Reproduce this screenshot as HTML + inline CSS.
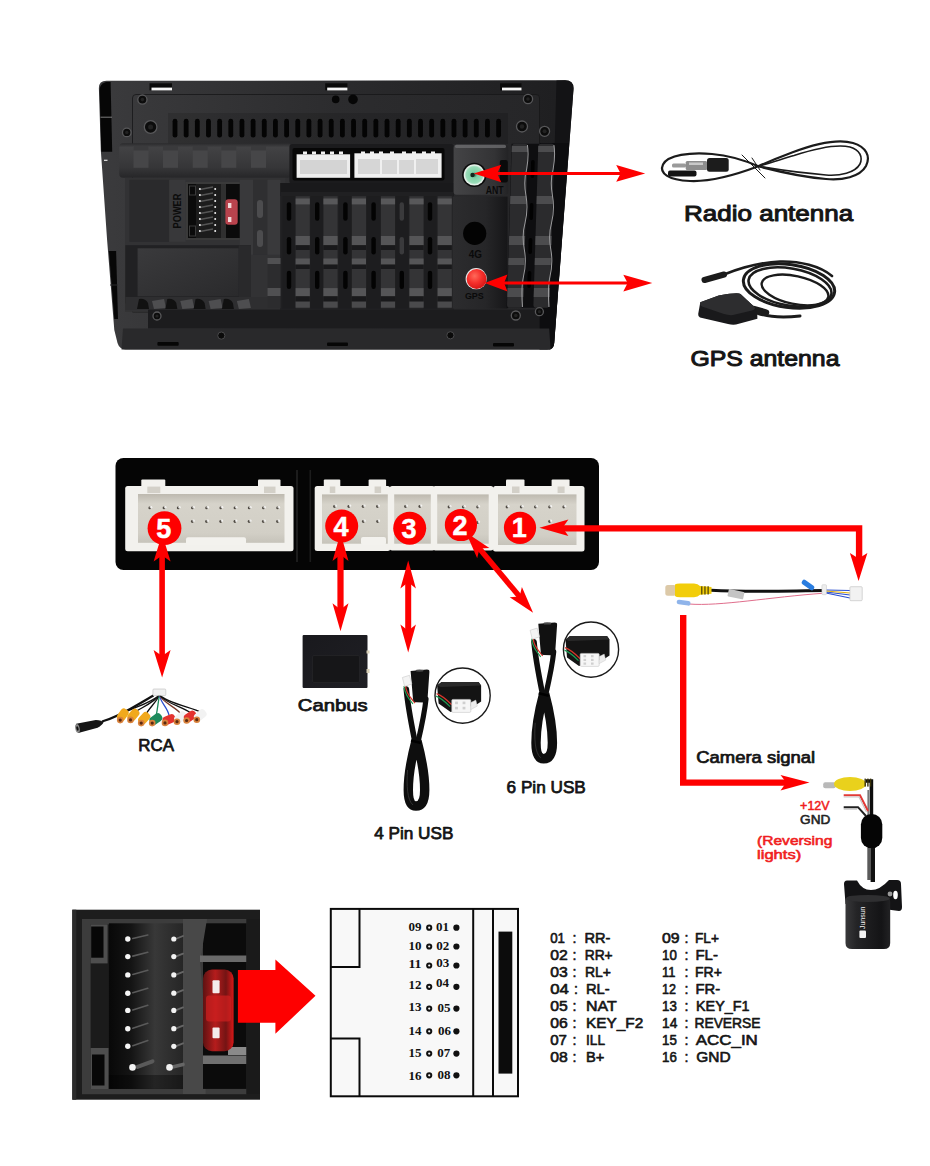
<!DOCTYPE html>
<html lang="en"><head><meta charset="utf-8"><title>Wiring diagram</title>
<style>
html,body{margin:0;padding:0;background:#fff;}
body{width:930px;height:1166px;overflow:hidden;font-family:"Liberation Sans",sans-serif;}
svg{display:block;}
</style></head><body>
<svg width="930" height="1166" viewBox="0 0 930 1166">
<rect width="930" height="1166" fill="#ffffff"/>
<defs>
<linearGradient id="gBody" x1="0" x2="1" y1="0" y2="0"><stop offset="0" stop-color="#3b3b3d"/><stop offset="0.45" stop-color="#2c2c2e"/><stop offset="1" stop-color="#1e1e20"/></linearGradient>
<linearGradient id="gPlate" x1="0" x2="1" y1="0" y2="0"><stop offset="0" stop-color="#39393b"/><stop offset="0.5" stop-color="#2c2c2e"/><stop offset="1" stop-color="#262628"/></linearGradient>
<linearGradient id="gRidge" x1="0" x2="0" y1="0" y2="1"><stop offset="0" stop-color="#2a2a2c"/><stop offset="0.12" stop-color="#424244"/><stop offset="0.7" stop-color="#363638"/><stop offset="1" stop-color="#262628"/></linearGradient>
<linearGradient id="gRib" x1="0" x2="0" y1="0" y2="1"><stop offset="0" stop-color="#4c4c4e"/><stop offset="1" stop-color="#3c3c3e"/></linearGradient>
<linearGradient id="gAnt" x1="0" x2="1" y1="0" y2="0"><stop offset="0" stop-color="#444446"/><stop offset="0.75" stop-color="#333335"/><stop offset="1" stop-color="#232325"/></linearGradient>
<linearGradient id="gLow" x1="0" x2="1" y1="0" y2="0"><stop offset="0" stop-color="#2c2c2e"/><stop offset="0.6" stop-color="#262628"/><stop offset="1" stop-color="#161618"/></linearGradient>
<linearGradient id="gPanel" x1="0" x2="1" y1="0" y2="1"><stop offset="0" stop-color="#3a3a3c"/><stop offset="1" stop-color="#2a2a2c"/></linearGradient>
<radialGradient id="gGps" cx="0.4" cy="0.35" r="0.7"><stop offset="0" stop-color="#ff6a5a"/><stop offset="0.5" stop-color="#f5302c"/><stop offset="1" stop-color="#d21414"/></radialGradient>
<radialGradient id="gAntC" cx="0.5" cy="0.5" r="0.5"><stop offset="0" stop-color="#2b5a43"/><stop offset="0.3" stop-color="#7ccfa4"/><stop offset="0.85" stop-color="#9adcb8"/><stop offset="1" stop-color="#d8efe2"/></radialGradient>
</defs>
<g id="unit">
<path d="M106.5,80.8 L565,80.3 Q573.9,80.3 573.5,89 L554.2,343 Q553.6,349.4 547,349.4 L125.5,349.4 Q119.5,349.4 117.5,343 L114.3,330 L107.1,240 L100.8,150 L98.9,89 Q98.4,80.8 106.5,80.8 Z" fill="url(#gBody)"/>
<path d="M99.6,90 Q99.6,84 106,82 L110.6,82 L112.2,151.7 L101.3,151.7 Z" fill="#060606"/>
<line x1="100.5" y1="117.2" x2="112.0" y2="117.2" stroke="#8a8a8a" stroke-width="0.9" stroke-linecap="butt"/>
<line x1="104.0" y1="160.3" x2="107.5" y2="160.3" stroke="#e8e8e8" stroke-width="1.2" stroke-linecap="butt"/>
<path d="M108.9,251 L116.1,251 L118,319 L114.3,319 Z" fill="#070707"/>
<line x1="110.0" y1="285.0" x2="118.0" y2="285.0" stroke="#2a2a2c" stroke-width="1.0" stroke-linecap="butt"/>
<path d="M556.5,80.5 L565,80.3 Q573.9,80.3 573.5,89 L554.2,343 Q553.6,349.4 549,349.4 Z" fill="#131315"/>
<path d="M539.5,143 L569,143 L554.2,343 Q553.6,349.4 549,349.4 L539.5,349.4 Z" fill="#0d0d0f"/>
<path d="M136,94.5 L536,94.5 Q539.5,94.5 539.5,98 L539.5,312 L132.5,312 L132.5,98 Q132.5,94.5 136,94.5 Z" fill="url(#gPlate)" stroke="#161618" stroke-width="0.8"/>
<rect x="168" y="113" width="340" height="31" fill="#000" opacity="0.13"/>
<rect x="149.5" y="83.3" width="22.5" height="7" fill="#0a0a0a"/>
<rect x="151.5" y="87.6" width="20.5" height="2.8" fill="#f6f6f6"/>
<rect x="325.2" y="83.3" width="22.2" height="7" fill="#0a0a0a"/>
<rect x="327.2" y="87.6" width="20.2" height="2.8" fill="#f6f6f6"/>
<rect x="500.0" y="83.3" width="21.5" height="7" fill="#0a0a0a"/>
<rect x="502.0" y="87.6" width="19.5" height="2.8" fill="#f6f6f6"/>
<circle cx="335.7" cy="99.4" r="3.8" fill="#060606"/><circle cx="353" cy="99.4" r="4.8" fill="#060606"/>
<rect x="172.60" y="118.8" width="4.8" height="18.8" rx="2.4" fill="#040404"/>
<rect x="183.76" y="118.8" width="4.8" height="18.8" rx="2.4" fill="#040404"/>
<rect x="194.92" y="118.8" width="4.8" height="18.8" rx="2.4" fill="#040404"/>
<rect x="206.08" y="118.8" width="4.8" height="18.8" rx="2.4" fill="#040404"/>
<rect x="217.24" y="118.8" width="4.8" height="18.8" rx="2.4" fill="#040404"/>
<rect x="228.39" y="118.8" width="4.8" height="18.8" rx="2.4" fill="#040404"/>
<rect x="239.55" y="118.8" width="4.8" height="18.8" rx="2.4" fill="#040404"/>
<rect x="250.71" y="118.8" width="4.8" height="18.8" rx="2.4" fill="#040404"/>
<rect x="261.87" y="118.8" width="4.8" height="18.8" rx="2.4" fill="#040404"/>
<rect x="273.03" y="118.8" width="4.8" height="18.8" rx="2.4" fill="#040404"/>
<rect x="284.19" y="118.8" width="4.8" height="18.8" rx="2.4" fill="#040404"/>
<rect x="295.35" y="118.8" width="4.8" height="18.8" rx="2.4" fill="#040404"/>
<rect x="306.51" y="118.8" width="4.8" height="18.8" rx="2.4" fill="#040404"/>
<rect x="317.67" y="118.8" width="4.8" height="18.8" rx="2.4" fill="#040404"/>
<rect x="328.83" y="118.8" width="4.8" height="18.8" rx="2.4" fill="#040404"/>
<rect x="339.99" y="118.8" width="4.8" height="18.8" rx="2.4" fill="#040404"/>
<rect x="351.14" y="118.8" width="4.8" height="18.8" rx="2.4" fill="#040404"/>
<rect x="362.30" y="118.8" width="4.8" height="18.8" rx="2.4" fill="#040404"/>
<rect x="373.46" y="118.8" width="4.8" height="18.8" rx="2.4" fill="#040404"/>
<rect x="384.62" y="118.8" width="4.8" height="18.8" rx="2.4" fill="#040404"/>
<rect x="395.78" y="118.8" width="4.8" height="18.8" rx="2.4" fill="#040404"/>
<rect x="406.94" y="118.8" width="4.8" height="18.8" rx="2.4" fill="#040404"/>
<rect x="418.10" y="118.8" width="4.8" height="18.8" rx="2.4" fill="#040404"/>
<rect x="429.26" y="118.8" width="4.8" height="18.8" rx="2.4" fill="#040404"/>
<rect x="440.42" y="118.8" width="4.8" height="18.8" rx="2.4" fill="#040404"/>
<rect x="451.58" y="118.8" width="4.8" height="18.8" rx="2.4" fill="#040404"/>
<rect x="462.73" y="118.8" width="4.8" height="18.8" rx="2.4" fill="#040404"/>
<rect x="473.89" y="118.8" width="4.8" height="18.8" rx="2.4" fill="#040404"/>
<rect x="485.05" y="118.8" width="4.8" height="18.8" rx="2.4" fill="#040404"/>
<rect x="496.21" y="118.8" width="4.8" height="18.8" rx="2.4" fill="#040404"/>
<rect x="119.2" y="143.2" width="172.6" height="34.6" rx="4" fill="url(#gRidge)"/>
<rect x="133.5" y="146" width="15" height="21.8" fill="#464648"/>
<rect x="133.5" y="146" width="15" height="4.5" fill="#3a3a3c"/>
<rect x="163.0" y="146" width="15" height="21.8" fill="#464648"/>
<rect x="163.0" y="146" width="15" height="4.5" fill="#3a3a3c"/>
<rect x="192.7" y="146" width="15" height="21.8" fill="#464648"/>
<rect x="192.7" y="146" width="15" height="4.5" fill="#3a3a3c"/>
<rect x="221.3" y="146" width="15" height="21.8" fill="#464648"/>
<rect x="221.3" y="146" width="15" height="4.5" fill="#3a3a3c"/>
<rect x="251.0" y="146" width="15" height="21.8" fill="#464648"/>
<rect x="251.0" y="146" width="15" height="4.5" fill="#3a3a3c"/>
<rect x="125" y="177.8" width="160" height="134" fill="#323234"/>
<rect x="129.4" y="179.8" width="40" height="62" fill="#2a2a2c"/>
<rect x="169.2" y="179.8" width="16.4" height="62" fill="#38383a"/>
<rect x="239.7" y="179.8" width="13.3" height="75" fill="#39393b"/>
<rect x="253" y="179.8" width="14.5" height="75" fill="#2f2f31"/>
<rect x="267.5" y="179.8" width="13" height="75" fill="#39393b"/>
<rect x="257" y="200" width="6" height="18" rx="3" fill="#4c4c4e"/>
<rect x="257" y="230" width="6" height="17" rx="3" fill="#4c4c4e"/>
<rect x="185.6" y="181.9" width="54.1" height="58.1" fill="#3a3a3a"/>
<rect x="188" y="184" width="51.7" height="54" fill="#0b0b0b"/>
<rect x="189.5" y="186" width="6" height="9" fill="none" stroke="#3a3a3a" stroke-width="1"/>
<rect x="189.5" y="226" width="6" height="10" fill="none" stroke="#3a3a3a" stroke-width="1"/>
<rect x="196" y="184" width="25" height="54" fill="#1c1c1c"/>
<rect x="221" y="184" width="5" height="54" fill="#303030"/>
<line x1="200" y1="189.5" x2="213" y2="187.0" stroke="#555" stroke-width="1.6"/>
<circle cx="199.9" cy="189.0" r="1" fill="#f0f0f0"/><circle cx="215.2" cy="189.0" r="1" fill="#f0f0f0"/>
<line x1="200" y1="195.5" x2="213" y2="193.0" stroke="#555" stroke-width="1.6"/>
<circle cx="199.9" cy="195.0" r="1" fill="#f0f0f0"/><circle cx="215.2" cy="195.0" r="1" fill="#f0f0f0"/>
<line x1="200" y1="201.5" x2="213" y2="199.0" stroke="#555" stroke-width="1.6"/>
<circle cx="199.9" cy="201.0" r="1" fill="#f0f0f0"/><circle cx="215.2" cy="201.0" r="1" fill="#f0f0f0"/>
<line x1="200" y1="207.5" x2="213" y2="205.0" stroke="#555" stroke-width="1.6"/>
<circle cx="199.9" cy="207.0" r="1" fill="#f0f0f0"/><circle cx="215.2" cy="207.0" r="1" fill="#f0f0f0"/>
<line x1="200" y1="213.5" x2="213" y2="211.0" stroke="#555" stroke-width="1.6"/>
<circle cx="199.9" cy="213.0" r="1" fill="#f0f0f0"/><circle cx="215.2" cy="213.0" r="1" fill="#f0f0f0"/>
<line x1="200" y1="219.5" x2="213" y2="217.0" stroke="#555" stroke-width="1.6"/>
<circle cx="199.9" cy="219.0" r="1" fill="#f0f0f0"/><circle cx="215.2" cy="219.0" r="1" fill="#f0f0f0"/>
<line x1="200" y1="225.5" x2="213" y2="223.0" stroke="#555" stroke-width="1.6"/>
<circle cx="199.9" cy="225.0" r="1" fill="#f0f0f0"/><circle cx="215.2" cy="225.0" r="1" fill="#f0f0f0"/>
<line x1="200" y1="231.5" x2="213" y2="229.0" stroke="#555" stroke-width="1.6"/>
<circle cx="199.9" cy="231.0" r="1" fill="#f0f0f0"/><circle cx="215.2" cy="231.0" r="1" fill="#f0f0f0"/>
<rect x="225.4" y="199.2" width="12.3" height="25.6" rx="3" fill="#b9434d"/>
<rect x="228" y="203" width="3.4" height="5" fill="#f3dada"/><rect x="228" y="217" width="3.4" height="5" fill="#f3dada"/>
<text x="0.0" y="0.0" font-family="&quot;Liberation Sans&quot;, sans-serif" font-size="10.6" font-weight="bold" fill="#0c0c0c" text-anchor="start" textLength="34.8" lengthAdjust="spacingAndGlyphs" transform="translate(180.6,228.4) rotate(-90)">POWER</text>
<rect x="125.3" y="245.2" width="125.7" height="58.2" fill="#212123"/>
<rect x="137.6" y="248.3" width="101.1" height="48" fill="url(#gPanel)"/>
<rect x="238.7" y="245.2" width="12.3" height="54" fill="#29292b"/>
<rect x="125.3" y="297" width="158" height="13" fill="#2e2e30"/>
<path d="M139.0,299 q6,-1 9,4 l1,6 l-12,0 z" fill="#111"/>
<path d="M152.0,301 l12,-2 l2,9 l-12,1 z" fill="#4e4e50"/>
<path d="M167.3,299 q6,-1 9,4 l1,6 l-12,0 z" fill="#111"/>
<path d="M180.3,301 l12,-2 l2,9 l-12,1 z" fill="#4e4e50"/>
<path d="M195.6,299 q6,-1 9,4 l1,6 l-12,0 z" fill="#111"/>
<path d="M208.6,301 l12,-2 l2,9 l-12,1 z" fill="#4e4e50"/>
<path d="M223.9,299 q6,-1 9,4 l1,6 l-12,0 z" fill="#111"/>
<path d="M236.9,301 l12,-2 l2,9 l-12,1 z" fill="#4e4e50"/>
<rect x="148" y="309.6" width="391" height="19" fill="#1c1c1e"/>
<path d="M123.0,328.5 L549.2,328.5 L550.6,349.4 L121.5,349.4 Z" fill="#29292b"/>
<circle cx="221.3" cy="335.6" r="3.6" fill="#0a0a0a" stroke="#4a4a4c" stroke-width="1"/>
<circle cx="450.4" cy="335.3" r="3.6" fill="#0a0a0a" stroke="#4a4a4c" stroke-width="1"/>
<rect x="157.4" y="342" width="21.3" height="3.8" rx="1" fill="#060606"/>
<rect x="327" y="342.5" width="21" height="3.5" rx="1" fill="#060606"/>
<rect x="493" y="343" width="21" height="3.5" rx="1" fill="#060606"/>
<rect x="289.4" y="144" width="164.5" height="40" rx="3" fill="#1b1b1d"/>
<rect x="292.5" y="148" width="152" height="32.5" rx="2" fill="#070707"/>
<rect x="296.6" y="154.3" width="53.5" height="23.5" fill="#eeeeee"/>
<rect x="354.4" y="153.3" width="87.2" height="24.5" fill="#f0f0f0"/>
<rect x="300" y="160" width="47" height="14" fill="#d4d4d4"/>
<rect x="358" y="159" width="22" height="15" fill="#d6d6d6"/><rect x="382" y="160" width="15" height="14" fill="#d6d6d6"/><rect x="399" y="160" width="15" height="14" fill="#d6d6d6"/><rect x="416" y="159" width="22" height="15" fill="#d6d6d6"/>
<rect x="303.0" y="151.5" width="4" height="2.8" fill="#f0f0f0"/>
<rect x="312.0" y="151.5" width="4" height="2.8" fill="#f0f0f0"/>
<rect x="321.0" y="151.5" width="4" height="2.8" fill="#f0f0f0"/>
<rect x="330.0" y="151.5" width="4" height="2.8" fill="#f0f0f0"/>
<rect x="339.0" y="151.5" width="4" height="2.8" fill="#f0f0f0"/>
<rect x="361.0" y="151.5" width="4" height="2.8" fill="#f0f0f0"/>
<rect x="370.0" y="151.5" width="4" height="2.8" fill="#f0f0f0"/>
<rect x="379.0" y="151.5" width="4" height="2.8" fill="#f0f0f0"/>
<rect x="390.0" y="151.5" width="4" height="2.8" fill="#f0f0f0"/>
<rect x="402.0" y="151.5" width="4" height="2.8" fill="#f0f0f0"/>
<rect x="412.0" y="151.5" width="4" height="2.8" fill="#f0f0f0"/>
<rect x="422.0" y="151.5" width="4" height="2.8" fill="#f0f0f0"/>
<rect x="431.0" y="151.5" width="4" height="2.8" fill="#f0f0f0"/>
<rect x="280.2" y="183" width="173.7" height="13" fill="#19191b"/>
<rect x="280.2" y="192" width="173.7" height="118" fill="#202022"/>
<rect x="282.5" y="196.2" width="13" height="112" fill="#1d1d1f"/>
<rect x="286.8" y="202.3" width="4.4" height="18.4" rx="2.2" fill="#030303"/>
<rect x="286.8" y="237.0" width="4.4" height="17.4" rx="2.2" fill="#030303"/>
<rect x="286.8" y="270.7" width="4.4" height="18.3" rx="2.2" fill="#030303"/>
<rect x="310.7" y="196.2" width="13" height="112" fill="#1d1d1f"/>
<rect x="315.0" y="202.3" width="4.4" height="18.4" rx="2.2" fill="#030303"/>
<rect x="315.0" y="237.0" width="4.4" height="17.4" rx="2.2" fill="#030303"/>
<rect x="315.0" y="270.7" width="4.4" height="18.3" rx="2.2" fill="#030303"/>
<rect x="338.9" y="196.2" width="13" height="112" fill="#1d1d1f"/>
<rect x="343.2" y="202.3" width="4.4" height="18.4" rx="2.2" fill="#030303"/>
<rect x="343.2" y="237.0" width="4.4" height="17.4" rx="2.2" fill="#030303"/>
<rect x="343.2" y="270.7" width="4.4" height="18.3" rx="2.2" fill="#030303"/>
<rect x="367.1" y="196.2" width="13" height="112" fill="#1d1d1f"/>
<rect x="371.4" y="202.3" width="4.4" height="18.4" rx="2.2" fill="#030303"/>
<rect x="371.4" y="237.0" width="4.4" height="17.4" rx="2.2" fill="#030303"/>
<rect x="371.4" y="270.7" width="4.4" height="18.3" rx="2.2" fill="#030303"/>
<rect x="395.3" y="196.2" width="13" height="112" fill="#1d1d1f"/>
<rect x="399.6" y="202.3" width="4.4" height="18.4" rx="2.2" fill="#3a3a3c"/>
<rect x="399.6" y="237.0" width="4.4" height="17.4" rx="2.2" fill="#3a3a3c"/>
<rect x="399.6" y="270.7" width="4.4" height="18.3" rx="2.2" fill="#030303"/>
<rect x="423.5" y="196.2" width="13" height="112" fill="#1d1d1f"/>
<rect x="427.8" y="202.3" width="4.4" height="18.4" rx="2.2" fill="#030303"/>
<rect x="427.8" y="237.0" width="4.4" height="17.4" rx="2.2" fill="#030303"/>
<rect x="427.8" y="270.7" width="4.4" height="18.3" rx="2.2" fill="#030303"/>
<rect x="295.6" y="196.2" width="14.2" height="112" fill="#343436"/>
<rect x="295.6" y="198.5" width="14.2" height="5.9" fill="#58585a"/>
<rect x="295.6" y="236.0" width="14.2" height="9.2" fill="#555557"/>
<rect x="295.6" y="258.5" width="14.2" height="6.1" fill="#555557"/>
<rect x="295.6" y="288.1" width="14.2" height="8.2" fill="#555557"/>
<rect x="295.6" y="301.4" width="14.2" height="6.1" fill="#4a4a4c"/>
<rect x="295.6" y="245.2" width="14.2" height="4.8" fill="#19191b"/>
<rect x="295.6" y="264.6" width="14.2" height="4.4" fill="#19191b"/>
<rect x="295.6" y="296.3" width="14.2" height="5.1" fill="#19191b"/>
<rect x="323.4" y="196.2" width="14.2" height="112" fill="#343436"/>
<rect x="323.4" y="198.5" width="14.2" height="5.9" fill="#58585a"/>
<rect x="323.4" y="236.0" width="14.2" height="9.2" fill="#555557"/>
<rect x="323.4" y="258.5" width="14.2" height="6.1" fill="#555557"/>
<rect x="323.4" y="288.1" width="14.2" height="8.2" fill="#555557"/>
<rect x="323.4" y="301.4" width="14.2" height="6.1" fill="#4a4a4c"/>
<rect x="323.4" y="245.2" width="14.2" height="4.8" fill="#19191b"/>
<rect x="323.4" y="264.6" width="14.2" height="4.4" fill="#19191b"/>
<rect x="323.4" y="296.3" width="14.2" height="5.1" fill="#19191b"/>
<rect x="351.8" y="196.2" width="14.2" height="112" fill="#343436"/>
<rect x="351.8" y="198.5" width="14.2" height="5.9" fill="#58585a"/>
<rect x="351.8" y="236.0" width="14.2" height="9.2" fill="#555557"/>
<rect x="351.8" y="258.5" width="14.2" height="6.1" fill="#555557"/>
<rect x="351.8" y="288.1" width="14.2" height="8.2" fill="#555557"/>
<rect x="351.8" y="301.4" width="14.2" height="6.1" fill="#4a4a4c"/>
<rect x="351.8" y="245.2" width="14.2" height="4.8" fill="#19191b"/>
<rect x="351.8" y="264.6" width="14.2" height="4.4" fill="#19191b"/>
<rect x="351.8" y="296.3" width="14.2" height="5.1" fill="#19191b"/>
<rect x="380.9" y="196.2" width="14.2" height="112" fill="#343436"/>
<rect x="380.9" y="198.5" width="14.2" height="5.9" fill="#58585a"/>
<rect x="380.9" y="236.0" width="14.2" height="9.2" fill="#555557"/>
<rect x="380.9" y="258.5" width="14.2" height="6.1" fill="#555557"/>
<rect x="380.9" y="288.1" width="14.2" height="8.2" fill="#555557"/>
<rect x="380.9" y="301.4" width="14.2" height="6.1" fill="#4a4a4c"/>
<rect x="380.9" y="245.2" width="14.2" height="4.8" fill="#19191b"/>
<rect x="380.9" y="264.6" width="14.2" height="4.4" fill="#19191b"/>
<rect x="380.9" y="296.3" width="14.2" height="5.1" fill="#19191b"/>
<rect x="409.4" y="196.2" width="14.2" height="112" fill="#343436"/>
<rect x="409.4" y="198.5" width="14.2" height="5.9" fill="#58585a"/>
<rect x="409.4" y="236.0" width="14.2" height="9.2" fill="#555557"/>
<rect x="409.4" y="258.5" width="14.2" height="6.1" fill="#555557"/>
<rect x="409.4" y="288.1" width="14.2" height="8.2" fill="#555557"/>
<rect x="409.4" y="301.4" width="14.2" height="6.1" fill="#4a4a4c"/>
<rect x="409.4" y="245.2" width="14.2" height="4.8" fill="#19191b"/>
<rect x="409.4" y="264.6" width="14.2" height="4.4" fill="#19191b"/>
<rect x="409.4" y="296.3" width="14.2" height="5.1" fill="#19191b"/>
<rect x="437.6" y="196.2" width="14.2" height="112" fill="#343436"/>
<rect x="437.6" y="198.5" width="14.2" height="5.9" fill="#58585a"/>
<rect x="437.6" y="236.0" width="14.2" height="9.2" fill="#555557"/>
<rect x="437.6" y="258.5" width="14.2" height="6.1" fill="#555557"/>
<rect x="437.6" y="288.1" width="14.2" height="8.2" fill="#555557"/>
<rect x="437.6" y="301.4" width="14.2" height="6.1" fill="#4a4a4c"/>
<rect x="437.6" y="245.2" width="14.2" height="4.8" fill="#19191b"/>
<rect x="437.6" y="264.6" width="14.2" height="4.4" fill="#19191b"/>
<rect x="437.6" y="296.3" width="14.2" height="5.1" fill="#19191b"/>
<rect x="267.5" y="258" width="13" height="50" fill="#2c2c2e"/>
<rect x="267.5" y="258" width="13" height="6" fill="#505052"/><rect x="267.5" y="288" width="13" height="8" fill="#505052"/>
<rect x="452.6" y="196.6" width="55" height="112" fill="url(#gLow)"/>
<rect x="453.6" y="144.7" width="54.7" height="50" rx="3" fill="url(#gAnt)"/>
<rect x="455" y="144.7" width="51" height="3.4" rx="1.5" fill="#6c6c6e" opacity="0.8"/>
<rect x="499.8" y="160" width="8" height="22.5" rx="2" fill="#0a0a0a"/>
<circle cx="474.3" cy="174.9" r="12.2" fill="#0b0b0b"/><circle cx="474.3" cy="174.9" r="10.6" fill="#e6efe9"/><circle cx="474.3" cy="174.9" r="9.6" fill="url(#gAntC)"/><circle cx="472.5" cy="175" r="2.2" fill="#12281d"/>
<text x="485.7" y="194.3" font-family="&quot;Liberation Sans&quot;, sans-serif" font-size="10.0" font-weight="bold" fill="#0a0a0a" text-anchor="start" textLength="17.9" lengthAdjust="spacingAndGlyphs" >ANT</text>
<circle cx="474.7" cy="233.4" r="11.6" fill="#030303"/>
<text x="468.7" y="257.9" font-family="&quot;Liberation Sans&quot;, sans-serif" font-size="10.0" font-weight="bold" fill="#0a0a0a" text-anchor="start" textLength="13.2" lengthAdjust="spacingAndGlyphs" >4G</text>
<circle cx="476.2" cy="278.7" r="10.6" fill="#e9e9e9"/><circle cx="476.6" cy="279" r="10" fill="url(#gGps)"/>
<text x="464.9" y="298.7" font-family="&quot;Liberation Sans&quot;, sans-serif" font-size="9.6" font-weight="bold" fill="#0a0a0a" text-anchor="start" textLength="18.9" lengthAdjust="spacingAndGlyphs" >GPS</text>
<g transform="translate(8,0) skewX(-1.74)">
<rect x="508" y="143.8" width="43" height="164" fill="#0e0e10"/>
<rect x="508.3" y="143.8" width="16.0" height="164" rx="3" fill="#2b2b2d"/><rect x="508.3" y="146.0" width="16.0" height="6.0" fill="#4c4c4e"/><rect x="508.3" y="196.0" width="16.0" height="8.0" fill="#4c4c4e"/><rect x="508.3" y="236.0" width="16.0" height="9.0" fill="#4c4c4e"/><rect x="508.3" y="258.0" width="16.0" height="7.0" fill="#4c4c4e"/><rect x="508.3" y="288.0" width="16.0" height="9.0" fill="#4c4c4e"/><path d="M523.8,145 q2,10 0,24 q-3,12 0,26 q3,14 0,28 q-3,12 0,26 q3,14 0,28 q-2,10 0,30" fill="none" stroke="#9c9c9e" stroke-width="1"/>
<rect x="534.7" y="143.8" width="16.1" height="164" rx="3" fill="#2b2b2d"/><rect x="534.7" y="146.0" width="16.1" height="6.0" fill="#4c4c4e"/><rect x="534.7" y="196.0" width="16.1" height="8.0" fill="#4c4c4e"/><rect x="534.7" y="236.0" width="16.1" height="9.0" fill="#4c4c4e"/><rect x="534.7" y="258.0" width="16.1" height="7.0" fill="#4c4c4e"/><rect x="534.7" y="288.0" width="16.1" height="9.0" fill="#4c4c4e"/><path d="M550.3,145 q2,10 0,24 q-3,12 0,26 q3,14 0,28 q-3,12 0,26 q3,14 0,28 q-2,10 0,30" fill="none" stroke="#9c9c9e" stroke-width="1"/>
<rect x="528" y="160.0" width="3.6" height="18.0" rx="1.8" fill="#020202"/>
<rect x="528" y="203.0" width="3.6" height="17.0" rx="1.8" fill="#020202"/>
<rect x="528" y="238.0" width="3.6" height="16.0" rx="1.8" fill="#020202"/>
<rect x="528" y="271.0" width="3.6" height="17.0" rx="1.8" fill="#020202"/>
</g>
<circle cx="142.4" cy="99.6" r="4.6" fill="#0c0c0c" stroke="#58585a" stroke-width="1.3"/><circle cx="142.4" cy="99.6" r="1.8" fill="#222"/>
<circle cx="150.6" cy="127.0" r="6.3" fill="#0c0c0c" stroke="#58585a" stroke-width="1.3"/><circle cx="150.6" cy="127.0" r="2.5" fill="#222"/>
<circle cx="126.8" cy="132.4" r="4.3" fill="#0c0c0c" stroke="#58585a" stroke-width="1.3"/><circle cx="126.8" cy="132.4" r="1.7" fill="#222"/>
<circle cx="528.0" cy="99.0" r="4.6" fill="#0c0c0c" stroke="#58585a" stroke-width="1.3"/><circle cx="528.0" cy="99.0" r="1.8" fill="#222"/>
<circle cx="522.0" cy="126.5" r="5.5" fill="#0c0c0c" stroke="#58585a" stroke-width="1.3"/><circle cx="522.0" cy="126.5" r="2.2" fill="#222"/>
<circle cx="544.6" cy="131.3" r="5.0" fill="#0c0c0c" stroke="#58585a" stroke-width="1.3"/><circle cx="544.6" cy="131.3" r="2.0" fill="#222"/>
<circle cx="157.0" cy="316.0" r="4.0" fill="#0c0c0c" stroke="#58585a" stroke-width="1.3"/><circle cx="157.0" cy="316.0" r="1.6" fill="#222"/>
<circle cx="515.8" cy="315.5" r="4.5" fill="#0c0c0c" stroke="#58585a" stroke-width="1.3"/><circle cx="515.8" cy="315.5" r="1.8" fill="#222"/>
<circle cx="539.4" cy="311.7" r="4.0" fill="#0c0c0c" stroke="#58585a" stroke-width="1.3"/><circle cx="539.4" cy="311.7" r="1.6" fill="#222"/>
</g>
<line x1="490.0" y1="173.5" x2="630.0" y2="173.4" stroke="#fe0000" stroke-width="3.0" stroke-linecap="butt"/>
<polygon points="473.8,173.5 501.3,164.7 497.2,173.5 501.3,182.3" fill="#fe0000"/>
<polygon points="645.2,173.4 616.2,181.7 620.6,173.4 616.2,165.1" fill="#fe0000"/>
<line x1="500.0" y1="283.1" x2="635.0" y2="283.1" stroke="#fe0000" stroke-width="3.0" stroke-linecap="butt"/>
<polygon points="484.7,283.1 507.5,274.6 504.1,283.1 507.5,291.6" fill="#fe0000"/>
<polygon points="652.3,283.1 623.3,291.4 627.6,283.1 623.3,274.8" fill="#fe0000"/>
<g id="radiocable" fill="none" stroke="#1b1b1b" stroke-width="2.2" stroke-linecap="round">
<path d="M758.3,166.3 C744,160 730,155.5 712,154 C690,152 668,155 663,164.5 C659,173 668,180 690,181 C712,182 738,174 758.3,166.3"/>
<path d="M758.3,166.3 C770,161 780,157 792,152.5 C812,145 836,138 853,143 C866,147 871,156 866,166 C860,177 842,180.5 826,179 C808,177.5 780,172 758.3,166.3"/>
<path d="M758.3,166.3 C772,162.5 782,159 794,155.5 C814,149 836,143.5 850,147 C860,150 863,157 860,164 C855,173 840,176 826,175 C808,173.5 780,170 758.3,166.3" stroke-width="1.6"/>
<path d="M742,155 L765,178 M752,158 L760,170" stroke-width="1"/>
</g>
<rect x="672" y="163.6" width="14" height="4" rx="1.5" fill="#9a9a9a"/>
<rect x="685.7" y="161" width="21.5" height="9" rx="1.5" fill="#8d8d8d"/>
<rect x="689" y="162.5" width="14" height="2.5" fill="#c9c9c9"/>
<rect x="707" y="158" width="21.7" height="13.7" rx="2.5" fill="#1c1c1c"/>
<rect x="668" y="170.5" width="28.5" height="6" rx="2" fill="#141414"/>
<text x="684.0" y="220.8" font-family="&quot;Liberation Sans&quot;, sans-serif" font-size="22.8" font-weight="normal" fill="#151515" text-anchor="start" textLength="169.2" lengthAdjust="spacingAndGlyphs"  stroke="#151515" stroke-width="1.03" stroke-linejoin="round">Radio antenna</text>
<text x="690.4" y="365.8" font-family="&quot;Liberation Sans&quot;, sans-serif" font-size="22.8" font-weight="normal" fill="#151515" text-anchor="start" textLength="149.1" lengthAdjust="spacingAndGlyphs"  stroke="#151515" stroke-width="1.03" stroke-linejoin="round">GPS antenna</text>
<g id="gpsant">
<g fill="none" stroke="#1b1b1b" stroke-linecap="round">
<ellipse cx="789" cy="286" rx="46" ry="21.5" stroke-width="3" transform="rotate(8 789 286)"/>
<ellipse cx="790" cy="287" rx="42" ry="18.5" stroke-width="2.6" transform="rotate(10 790 287)"/>
<ellipse cx="795" cy="290" rx="34" ry="14" stroke-width="2.4" transform="rotate(12 795 290)"/>
<path d="M724,274.5 C740,268 760,262.5 780,261.5 C800,261 820,266 832,276" stroke-width="2.6"/>
<path d="M704.5,280 L724,274.5" stroke-width="6"/>
<path d="M757,313 C765,316 780,318 800,316" stroke-width="3"/>
<path d="M754,309 L766,312.5" stroke-width="6.5"/>
</g>
<path d="M700.3,302.3 L718.7,295.5 Q738,292 740.5,294 L754.5,307 Q757.5,310 757.4,318.7 L736,324.5 Q732,325 728,324 L700,317.5 Q698,317 698.2,314 Z" fill="#19191b"/>
<path d="M700.3,302.3 L718.7,295.5 Q738,292 740.5,294 L754.5,307 Q756,309 752,310.5 L733,315 Q729,315.5 724,314 L702,306.5 Q699.5,305 700.3,302.3 Z" fill="#2d2d2f"/>
</g>
<defs>
<linearGradient id="gCav" x1="0" x2="0" y1="0" y2="1"><stop offset="0" stop-color="#bdb9af"/><stop offset="0.2" stop-color="#d6d3ca"/><stop offset="0.8" stop-color="#d2cfc6"/><stop offset="1" stop-color="#c6c3ba"/></linearGradient>
</defs>
<g id="bar">
<rect x="115.5" y="458" width="483.5" height="112" rx="8" fill="#050505"/>
<rect x="296" y="470" width="2" height="92" fill="#1c1c1c"/><rect x="309.5" y="470" width="1.6" height="92" fill="#1c1c1c"/>
<rect x="125.2" y="486.1" width="168.3" height="65.2" rx="2.5" fill="#f2f1ed"/><rect x="141.3" y="479.6" width="24.0" height="9" rx="1" fill="#f2f1ed"/><rect x="258.0" y="479.6" width="22.5" height="9" rx="1" fill="#f2f1ed"/><rect x="138.0" y="494.0" width="146.5" height="48.8" fill="url(#gCav)"/><rect x="147.3" y="486.6" width="13.0" height="6.5" fill="#d3d0c8"/><rect x="264.0" y="486.6" width="11.5" height="6.5" fill="#d3d0c8"/><rect x="186.0" y="537.3" width="60.0" height="8" rx="2" fill="#f3f2ee"/><circle cx="149.8" cy="507.9" r="1.4" fill="#4f4a43"/><circle cx="151.1" cy="507.2" r="1.2" fill="#fff" opacity="0.75"/><circle cx="164.0" cy="507.9" r="1.4" fill="#4f4a43"/><circle cx="165.3" cy="507.2" r="1.2" fill="#fff" opacity="0.75"/><circle cx="178.2" cy="507.9" r="1.4" fill="#4f4a43"/><circle cx="179.5" cy="507.2" r="1.2" fill="#fff" opacity="0.75"/><circle cx="192.4" cy="507.9" r="1.4" fill="#4f4a43"/><circle cx="193.7" cy="507.2" r="1.2" fill="#fff" opacity="0.75"/><circle cx="206.6" cy="507.9" r="1.4" fill="#4f4a43"/><circle cx="207.9" cy="507.2" r="1.2" fill="#fff" opacity="0.75"/><circle cx="220.8" cy="507.9" r="1.4" fill="#4f4a43"/><circle cx="222.1" cy="507.2" r="1.2" fill="#fff" opacity="0.75"/><circle cx="235.0" cy="507.9" r="1.4" fill="#4f4a43"/><circle cx="236.3" cy="507.2" r="1.2" fill="#fff" opacity="0.75"/><circle cx="249.2" cy="507.9" r="1.4" fill="#4f4a43"/><circle cx="250.5" cy="507.2" r="1.2" fill="#fff" opacity="0.75"/><circle cx="263.4" cy="507.9" r="1.4" fill="#4f4a43"/><circle cx="264.7" cy="507.2" r="1.2" fill="#fff" opacity="0.75"/><circle cx="277.6" cy="507.9" r="1.4" fill="#4f4a43"/><circle cx="278.9" cy="507.2" r="1.2" fill="#fff" opacity="0.75"/><circle cx="192.3" cy="521.5" r="1.4" fill="#4f4a43"/><circle cx="193.6" cy="520.8" r="1.2" fill="#fff" opacity="0.75"/><circle cx="206.5" cy="521.5" r="1.4" fill="#4f4a43"/><circle cx="207.8" cy="520.8" r="1.2" fill="#fff" opacity="0.75"/><circle cx="220.7" cy="521.5" r="1.4" fill="#4f4a43"/><circle cx="222.0" cy="520.8" r="1.2" fill="#fff" opacity="0.75"/><circle cx="234.9" cy="521.5" r="1.4" fill="#4f4a43"/><circle cx="236.2" cy="520.8" r="1.2" fill="#fff" opacity="0.75"/><circle cx="249.1" cy="521.5" r="1.4" fill="#4f4a43"/><circle cx="250.4" cy="520.8" r="1.2" fill="#fff" opacity="0.75"/><circle cx="263.3" cy="521.5" r="1.4" fill="#4f4a43"/><circle cx="264.6" cy="520.8" r="1.2" fill="#fff" opacity="0.75"/><circle cx="277.5" cy="521.5" r="1.4" fill="#4f4a43"/><circle cx="278.8" cy="520.8" r="1.2" fill="#fff" opacity="0.75"/>
<rect x="314.7" y="486.0" width="75.5" height="65.0" rx="2.5" fill="#f2f1ed"/><rect x="323.8" y="479.5" width="16.5" height="9" rx="1" fill="#f2f1ed"/><rect x="368.6" y="479.5" width="17.5" height="9" rx="1" fill="#f2f1ed"/><rect x="322.0" y="494.4" width="65.8" height="49.3" fill="url(#gCav)"/><rect x="329.8" y="486.5" width="5.5" height="6.5" fill="#d3d0c8"/><rect x="374.6" y="486.5" width="6.5" height="6.5" fill="#d3d0c8"/><rect x="361.0" y="537.0" width="25.0" height="8" rx="2" fill="#f3f2ee"/><circle cx="334.5" cy="506.5" r="1.4" fill="#4f4a43"/><circle cx="335.8" cy="505.8" r="1.2" fill="#fff" opacity="0.75"/><circle cx="348.8" cy="506.5" r="1.4" fill="#4f4a43"/><circle cx="350.1" cy="505.8" r="1.2" fill="#fff" opacity="0.75"/><circle cx="363.1" cy="506.5" r="1.4" fill="#4f4a43"/><circle cx="364.4" cy="505.8" r="1.2" fill="#fff" opacity="0.75"/><circle cx="377.4" cy="506.5" r="1.4" fill="#4f4a43"/><circle cx="378.7" cy="505.8" r="1.2" fill="#fff" opacity="0.75"/><circle cx="363.3" cy="521.5" r="1.4" fill="#4f4a43"/><circle cx="364.6" cy="520.8" r="1.2" fill="#fff" opacity="0.75"/><circle cx="377.6" cy="521.5" r="1.4" fill="#4f4a43"/><circle cx="378.9" cy="520.8" r="1.2" fill="#fff" opacity="0.75"/>
<rect x="389.6" y="486.0" width="45.3" height="64.5" rx="2.5" fill="#f2f1ed"/><rect x="394.2" y="494.4" width="36.6" height="49.3" fill="url(#gCav)"/><circle cx="405.5" cy="506.5" r="1.4" fill="#4f4a43"/><circle cx="406.8" cy="505.8" r="1.2" fill="#fff" opacity="0.75"/><circle cx="419.8" cy="506.5" r="1.4" fill="#4f4a43"/><circle cx="421.1" cy="505.8" r="1.2" fill="#fff" opacity="0.75"/>
<rect x="432.9" y="486.0" width="60.5" height="64.5" rx="2.5" fill="#f2f1ed"/><rect x="437.2" y="494.4" width="51.5" height="49.3" fill="url(#gCav)"/><circle cx="449.0" cy="507.0" r="1.4" fill="#4f4a43"/><circle cx="450.3" cy="506.3" r="1.2" fill="#fff" opacity="0.75"/><circle cx="463.3" cy="507.0" r="1.4" fill="#4f4a43"/><circle cx="464.6" cy="506.3" r="1.2" fill="#fff" opacity="0.75"/><circle cx="477.6" cy="507.0" r="1.4" fill="#4f4a43"/><circle cx="478.9" cy="506.3" r="1.2" fill="#fff" opacity="0.75"/><circle cx="477.6" cy="522.5" r="1.4" fill="#4f4a43"/><circle cx="478.9" cy="521.8" r="1.2" fill="#fff" opacity="0.75"/>
<rect x="493.0" y="486.0" width="91.5" height="65.5" rx="2.5" fill="#f2f1ed"/><rect x="506.0" y="479.5" width="18.5" height="9" rx="1" fill="#f2f1ed"/><rect x="551.6" y="479.5" width="18.0" height="9" rx="1" fill="#f2f1ed"/><rect x="498.0" y="494.4" width="78.5" height="50.6" fill="url(#gCav)"/><rect x="512.0" y="486.5" width="7.5" height="6.5" fill="#d3d0c8"/><rect x="557.6" y="486.5" width="7.0" height="6.5" fill="#d3d0c8"/><circle cx="507.0" cy="507.0" r="1.4" fill="#4f4a43"/><circle cx="508.3" cy="506.3" r="1.2" fill="#fff" opacity="0.75"/><circle cx="521.2" cy="507.0" r="1.4" fill="#4f4a43"/><circle cx="522.5" cy="506.3" r="1.2" fill="#fff" opacity="0.75"/><circle cx="535.4" cy="507.0" r="1.4" fill="#4f4a43"/><circle cx="536.7" cy="506.3" r="1.2" fill="#fff" opacity="0.75"/><circle cx="549.6" cy="507.0" r="1.4" fill="#4f4a43"/><circle cx="550.9" cy="506.3" r="1.2" fill="#fff" opacity="0.75"/><circle cx="563.8" cy="507.0" r="1.4" fill="#4f4a43"/><circle cx="565.1" cy="506.3" r="1.2" fill="#fff" opacity="0.75"/><circle cx="549.6" cy="521.5" r="1.4" fill="#4f4a43"/><circle cx="550.9" cy="520.8" r="1.2" fill="#fff" opacity="0.75"/>
</g>
<polygon points="539.4,527.8 568.4,519.5 562.6,527.8 568.4,536.0" fill="#fe0000"/>
<path d="M560,528.4 L859.1,528.4 L859.1,560" fill="none" stroke="#fe0000" stroke-width="6.4"/>
<polygon points="858.6,581.0 849.9,553.0 858.6,558.6 867.4,553.0" fill="#fe0000"/>
<polygon points="162.1,534.0 170.6,561.5 162.1,555.5 153.6,561.5" fill="#fe0000"/><line x1="162.1" y1="553.2" x2="162.1" y2="658.4" stroke="#fe0000" stroke-width="5.6" stroke-linecap="butt"/><polygon points="162.1,677.6 153.6,650.1 162.1,656.1 170.6,650.1" fill="#fe0000"/>
<polygon points="340.5,533.0 348.5,561.0 340.5,554.8 332.5,561.0" fill="#fe0000"/><line x1="340.5" y1="552.6" x2="340.5" y2="611.7" stroke="#fe0000" stroke-width="6.2" stroke-linecap="butt"/><polygon points="340.5,631.3 332.5,603.3 340.5,609.5 348.5,603.3" fill="#fe0000"/>
<polygon points="408.2,560.5 415.9,588.5 408.2,582.3 400.4,588.5" fill="#fe0000"/><line x1="408.2" y1="580.1" x2="408.2" y2="633.0" stroke="#fe0000" stroke-width="6.0" stroke-linecap="butt"/><polygon points="408.2,652.6 400.4,624.6 408.2,630.8 415.9,624.6" fill="#fe0000"/>
<polygon points="466.0,532.4 489.4,548.0 479.5,548.6 477.2,558.3" fill="#fe0000"/><line x1="478.1" y1="546.9" x2="521.0" y2="598.3" stroke="#fe0000" stroke-width="5.5" stroke-linecap="butt"/><polygon points="533.1,612.8 509.7,597.2 519.6,596.6 521.9,586.9" fill="#fe0000"/>
<circle cx="164.5" cy="528.2" r="16.9" fill="#fe0000"/>
<text x="163.7" y="537.8" font-family="&quot;Liberation Sans&quot;, sans-serif" font-size="27.0" font-weight="bold" fill="#fff" text-anchor="middle" stroke="#fff" stroke-width="0.5">5</text>
<circle cx="341.7" cy="526.0" r="16.5" fill="#fe0000"/>
<text x="340.9" y="535.6" font-family="&quot;Liberation Sans&quot;, sans-serif" font-size="27.0" font-weight="bold" fill="#fff" text-anchor="middle" stroke="#fff" stroke-width="0.5">4</text>
<circle cx="409.7" cy="528.2" r="16.5" fill="#fe0000"/>
<text x="408.9" y="537.8" font-family="&quot;Liberation Sans&quot;, sans-serif" font-size="27.0" font-weight="bold" fill="#fff" text-anchor="middle" stroke="#fff" stroke-width="0.5">3</text>
<circle cx="460.9" cy="525.0" r="16.1" fill="#fe0000"/>
<text x="460.1" y="534.6" font-family="&quot;Liberation Sans&quot;, sans-serif" font-size="27.0" font-weight="bold" fill="#fff" text-anchor="middle" stroke="#fff" stroke-width="0.5">2</text>
<circle cx="520.0" cy="527.8" r="16.1" fill="#fe0000"/>
<text x="519.2" y="537.4" font-family="&quot;Liberation Sans&quot;, sans-serif" font-size="27.0" font-weight="bold" fill="#fff" text-anchor="middle" stroke="#fff" stroke-width="0.5">1</text>
<text x="138.3" y="750.9" font-family="&quot;Liberation Sans&quot;, sans-serif" font-size="16.6" font-weight="normal" fill="#141414" text-anchor="start" textLength="35.6" lengthAdjust="spacingAndGlyphs"  stroke="#141414" stroke-width="0.75" stroke-linejoin="round">RCA</text>
<text x="297.8" y="711.2" font-family="&quot;Liberation Sans&quot;, sans-serif" font-size="16.6" font-weight="normal" fill="#141414" text-anchor="start" textLength="69.9" lengthAdjust="spacingAndGlyphs"  stroke="#141414" stroke-width="0.75" stroke-linejoin="round">Canbus</text>
<text x="374.2" y="838.9" font-family="&quot;Liberation Sans&quot;, sans-serif" font-size="16.6" font-weight="normal" fill="#141414" text-anchor="start" textLength="79.2" lengthAdjust="spacingAndGlyphs"  stroke="#141414" stroke-width="0.75" stroke-linejoin="round">4 Pin USB</text>
<text x="506.6" y="792.7" font-family="&quot;Liberation Sans&quot;, sans-serif" font-size="16.6" font-weight="normal" fill="#141414" text-anchor="start" textLength="79.2" lengthAdjust="spacingAndGlyphs"  stroke="#141414" stroke-width="0.75" stroke-linejoin="round">6 Pin USB</text>
<text x="696.3" y="763.3" font-family="&quot;Liberation Sans&quot;, sans-serif" font-size="16.4" font-weight="normal" fill="#141414" text-anchor="start" textLength="118.9" lengthAdjust="spacingAndGlyphs"  stroke="#141414" stroke-width="0.74" stroke-linejoin="round">Camera signal</text>
<text x="800.1" y="809.7" font-family="&quot;Liberation Sans&quot;, sans-serif" font-size="12.7" font-weight="normal" fill="#f01e1e" text-anchor="start" textLength="29.5" lengthAdjust="spacingAndGlyphs"  stroke="#f01e1e" stroke-width="0.57" stroke-linejoin="round">+12V</text>
<text x="800.1" y="824.0" font-family="&quot;Liberation Sans&quot;, sans-serif" font-size="12.7" font-weight="normal" fill="#222" text-anchor="start" textLength="30.2" lengthAdjust="spacingAndGlyphs"  stroke="#222" stroke-width="0.57" stroke-linejoin="round">GND</text>
<text x="757.0" y="845.3" font-family="&quot;Liberation Sans&quot;, sans-serif" font-size="13.3" font-weight="normal" fill="#f01e1e" text-anchor="start" textLength="75.3" lengthAdjust="spacingAndGlyphs"  stroke="#f01e1e" stroke-width="0.60" stroke-linejoin="round">(Reversing</text>
<text x="757.0" y="859.4" font-family="&quot;Liberation Sans&quot;, sans-serif" font-size="13.3" font-weight="normal" fill="#f01e1e" text-anchor="start" textLength="44.3" lengthAdjust="spacingAndGlyphs"  stroke="#f01e1e" stroke-width="0.60" stroke-linejoin="round">lights)</text>
<defs><linearGradient id="gCan" x1="0" x2="1" y1="0" y2="1"><stop offset="0" stop-color="#19191d"/><stop offset="1" stop-color="#1f1f24"/></linearGradient></defs>
<rect x="302.6" y="635.1" width="64.9" height="52.8" rx="1" fill="url(#gCan)"/>
<rect x="312.5" y="655.5" width="47" height="27" rx="1.5" fill="#161618" stroke="#242427" stroke-width="0.8"/>
<rect x="366.5" y="650.5" width="3" height="3" fill="#d8d0b8"/><rect x="366.5" y="669" width="3" height="4" fill="#d8d0b8"/>
<g transform="translate(0.0,0.0)"><path d="M406.3,689 C408,708 412,727 415,742" fill="none" stroke="#0e0e0e" stroke-width="5.6" stroke-linecap="round"/><path d="M426,699 C424.5,714 421,729 418,742" fill="none" stroke="#0e0e0e" stroke-width="5.2" stroke-linecap="round"/><path d="M416,741 C412,756 408.3,772 408.3,790 C408.3,801 411,806 416,806 C421.5,806 424.7,801 424.7,790 C424.7,772 421,756 417,741" fill="none" stroke="#0e0e0e" stroke-width="9.4" stroke-linejoin="round"/><path d="M407.5,770 C406.5,785 407,800 413,805" fill="none" stroke="#3a3a3a" stroke-width="0.8"/><path d="M411,740.4 l10,2.6" stroke="#000" stroke-width="2.6" fill="none"/><path d="M405.5,686 C406,694 411,698 415,703" fill="none" stroke="#d8372c" stroke-width="1.3"/><path d="M404,686 C404.5,694 409,699 413,704" fill="none" stroke="#1f9a55" stroke-width="1.1"/><path d="M410.6,671 L427,669.6 Q429.6,669.6 429.4,672 L427.5,699.5 Q427,702.5 424,702.5 L416,702.3 Q413.2,702 413,699 Z" fill="#111"/><ellipse cx="419.6" cy="670.6" rx="4" ry="1.2" fill="#4a4a4a"/><path d="M402.4,677.5 L409.5,675.3 L411.8,684 L404.6,686.4 Z" fill="#f4f4f4" stroke="#c9c9c9" stroke-width="0.6"/></g>
<g transform="translate(127.7,-47.2)"><path d="M406.3,689 C408,708 412,727 415,742" fill="none" stroke="#0e0e0e" stroke-width="5.6" stroke-linecap="round"/><path d="M426,699 C424.5,714 421,729 418,742" fill="none" stroke="#0e0e0e" stroke-width="5.2" stroke-linecap="round"/><path d="M416,741 C412,756 408.3,772 408.3,790 C408.3,801 411,806 416,806 C421.5,806 424.7,801 424.7,790 C424.7,772 421,756 417,741" fill="none" stroke="#0e0e0e" stroke-width="9.4" stroke-linejoin="round"/><path d="M407.5,770 C406.5,785 407,800 413,805" fill="none" stroke="#3a3a3a" stroke-width="0.8"/><path d="M411,740.4 l10,2.6" stroke="#000" stroke-width="2.6" fill="none"/><path d="M405.5,686 C406,694 411,698 415,703" fill="none" stroke="#d8372c" stroke-width="1.3"/><path d="M404,686 C404.5,694 409,699 413,704" fill="none" stroke="#1f9a55" stroke-width="1.1"/><path d="M410.6,671 L427,669.6 Q429.6,669.6 429.4,672 L427.5,699.5 Q427,702.5 424,702.5 L416,702.3 Q413.2,702 413,699 Z" fill="#111"/><ellipse cx="419.6" cy="670.6" rx="4" ry="1.2" fill="#4a4a4a"/><path d="M402.4,677.5 L409.5,675.3 L411.8,684 L404.6,686.4 Z" fill="#f4f4f4" stroke="#c9c9c9" stroke-width="0.6"/></g>
<circle cx="462.6" cy="695.6" r="27.6" fill="#fff" stroke="#1a1a1a" stroke-width="1.4"/><g transform="translate(462.6,695.6)"><path d="M-25.5,-10 L-21,-13.5 L16,-13.5 L18.5,-10 L18.5,6 L14,9 L-12,16.5 L-24,8 Z" fill="#141414"/><path d="M-25.5,-10 L-21,-13.5 L16,-13.5 L18.5,-10 L-22,-8.5 Z" fill="#2a2a2a"/><path d="M-26,-2 C-20,0 -16,4 -11,9" fill="none" stroke="#d8372c" stroke-width="1.3"/><path d="M-26.5,0.5 C-21,2.5 -17,6.5 -12.5,11" fill="none" stroke="#1f9a55" stroke-width="1.2"/><rect x="-10.8" y="3.8" width="19" height="13" rx="1.2" fill="#f6f6f6" stroke="#c8c8c8" stroke-width="0.6"/><path d="M8.2,7 l5,-2.5 l1.5,6 l-6.5,3.5 z" fill="#ededed" stroke="#c8c8c8" stroke-width="0.5"/><rect x="-7.5" y="6.0" width="2.8" height="2.6" fill="#cfcfcf"/><rect x="-7.5" y="11.2" width="2.8" height="2.6" fill="#cfcfcf"/><rect x="0.0" y="6.0" width="2.8" height="2.6" fill="#cfcfcf"/><rect x="0.0" y="11.2" width="2.8" height="2.6" fill="#cfcfcf"/></g>
<circle cx="591.0" cy="649.6" r="27.6" fill="#fff" stroke="#1a1a1a" stroke-width="1.4"/><g transform="translate(591.0,649.6)"><path d="M-25.5,-10 L-21,-13.5 L16,-13.5 L18.5,-10 L18.5,6 L14,9 L-12,16.5 L-24,8 Z" fill="#141414"/><path d="M-25.5,-10 L-21,-13.5 L16,-13.5 L18.5,-10 L-22,-8.5 Z" fill="#2a2a2a"/><path d="M-26,-2 C-20,0 -16,4 -11,9" fill="none" stroke="#d8372c" stroke-width="1.3"/><path d="M-26.5,0.5 C-21,2.5 -17,6.5 -12.5,11" fill="none" stroke="#1f9a55" stroke-width="1.2"/><rect x="-10.8" y="3.8" width="19" height="13" rx="1.2" fill="#f6f6f6" stroke="#c8c8c8" stroke-width="0.6"/><path d="M8.2,7 l5,-2.5 l1.5,6 l-6.5,3.5 z" fill="#ededed" stroke="#c8c8c8" stroke-width="0.5"/><rect x="-7.5" y="5.5" width="2.6" height="2.2" fill="#cfcfcf"/><rect x="-7.5" y="9.2" width="2.6" height="2.2" fill="#cfcfcf"/><rect x="-7.5" y="12.9" width="2.6" height="2.2" fill="#cfcfcf"/><rect x="0.0" y="5.5" width="2.6" height="2.2" fill="#cfcfcf"/><rect x="0.0" y="9.2" width="2.6" height="2.2" fill="#cfcfcf"/><rect x="0.0" y="12.9" width="2.6" height="2.2" fill="#cfcfcf"/></g>
<g id="rca">
<path d="M102,721.5 C122,716 138,704 153.5,695.5" fill="none" stroke="#111" stroke-width="2.2"/>
<g transform="rotate(-13 89 726)"><path d="M77,721 L97,721.6 Q103,723.5 104,725.5 Q103,727.5 97,729.6 L77,730.4 Q74.6,726 77,721 Z" fill="#161616"/><ellipse cx="77.2" cy="725.8" rx="2.2" ry="4.4" fill="#8a8a8a"/><ellipse cx="77.2" cy="725.8" rx="1.1" ry="2.3" fill="#111"/></g>
<path d="M159.5,695 C151.6,703.0 132.1,708.0 124.2,712.6" fill="none" stroke="#111" stroke-width="1.3"/>
<path d="M159.5,695 C153.7,703.0 140.3,708.0 134.5,712.4" fill="none" stroke="#111" stroke-width="1.3"/>
<path d="M159.5,695 C155.8,703.0 148.9,708.0 145.2,715.6" fill="none" stroke="#111" stroke-width="1.3"/>
<path d="M159.5,695 C158.0,703.0 157.7,708.0 156.2,715.6" fill="none" stroke="#1d8a5c" stroke-width="1.3"/>
<path d="M159.5,695 C160.6,703.0 167.9,708.0 169.0,715.4" fill="none" stroke="#2a4ecf" stroke-width="1.3"/>
<path d="M159.5,695 C163.0,703.0 177.5,708.0 181.0,714.2" fill="none" stroke="#7a3a2a" stroke-width="1.3"/>
<path d="M159.5,695 C164.9,703.0 185.2,708.0 190.6,713.0" fill="none" stroke="#111" stroke-width="1.3"/>
<path d="M159.5,695 C167.0,703.0 193.3,708.0 200.8,712.2" fill="none" stroke="#111" stroke-width="1.3"/>
<g transform="rotate(-55 120.2 718.6)"><rect x="118.2" y="714.3" width="13" height="8.6" rx="3.6" fill="#f1a91d"/></g>
<circle cx="120.2" cy="720.1" r="3.3" fill="#d9823c"/><circle cx="120.2" cy="720.1" r="1.6" fill="#5a2a12"/>
<g transform="rotate(-50 130.5 718.4)"><rect x="128.5" y="714.1" width="13" height="8.6" rx="3.6" fill="#f1a91d"/></g>
<circle cx="130.5" cy="719.9" r="3.3" fill="#d9823c"/><circle cx="130.5" cy="719.9" r="1.6" fill="#5a2a12"/>
<g transform="rotate(-48 141.2 721.6)"><rect x="139.2" y="717.3" width="13" height="8.6" rx="3.6" fill="#f1a91d"/></g>
<circle cx="141.2" cy="723.1" r="3.3" fill="#d9823c"/><circle cx="141.2" cy="723.1" r="1.6" fill="#5a2a12"/>
<g transform="rotate(-35 152.2 721.6)"><rect x="150.2" y="717.3" width="13" height="8.6" rx="3.6" fill="#1d8a5c"/></g>
<circle cx="152.2" cy="723.1" r="3.3" fill="#d9823c"/><circle cx="152.2" cy="723.1" r="1.6" fill="#5a2a12"/>
<g transform="rotate(-25 165.0 721.4)"><rect x="163.0" y="717.1" width="13" height="8.6" rx="3.6" fill="#e4322f"/></g>
<circle cx="165.0" cy="722.9" r="3.3" fill="#d9823c"/><circle cx="165.0" cy="722.9" r="1.6" fill="#5a2a12"/>
<g transform="rotate(-40 177.0 720.2)"><rect x="175.0" y="715.9" width="13" height="8.6" rx="3.6" fill="#f2f2f2"/></g>
<circle cx="177.0" cy="721.7" r="3.3" fill="#d9823c"/><circle cx="177.0" cy="721.7" r="1.6" fill="#5a2a12"/>
<g transform="rotate(-35 186.6 719.0)"><rect x="184.6" y="714.7" width="13" height="8.6" rx="3.6" fill="#e4322f"/></g>
<circle cx="186.6" cy="720.5" r="3.3" fill="#d9823c"/><circle cx="186.6" cy="720.5" r="1.6" fill="#5a2a12"/>
<g transform="rotate(-40 196.8 718.2)"><rect x="194.8" y="713.9" width="13" height="8.6" rx="3.6" fill="#f2f2f2"/></g>
<circle cx="196.8" cy="719.7" r="3.3" fill="#d9823c"/><circle cx="196.8" cy="719.7" r="1.6" fill="#5a2a12"/>
<rect x="152.9" y="689" width="12.9" height="6.6" rx="1" fill="#f0f0f0" stroke="#bdbdbd" stroke-width="0.6"/>
</g>
<g id="camcable">
<path d="M711,590.2 C750,592.5 790,590.8 826,590.6" fill="none" stroke="#111" stroke-width="3"/>
<path d="M689,604 C720,606.5 770,597 824,593.2" fill="none" stroke="#e06e8c" stroke-width="1"/>
<rect x="676.7" y="600.3" width="14" height="4.6" rx="2.3" fill="#8fb4ea" transform="rotate(8 683 602)"/>
<rect x="665.3" y="585" width="11" height="10.8" rx="2.5" fill="#dcc9a8"/>
<path d="M675,584.6 Q676,583.4 680,583.4 L694,583.4 Q698,583.8 700,586 L711.5,587 L711.5,593.8 L700,594.8 Q698,597 694,597.2 L680,597.2 Q676,597.2 675,596 Z" fill="#f2cd0a"/>
<rect x="701.0" y="586.3" width="1.5" height="8.2" fill="#6a5a08"/>
<rect x="704.2" y="586.3" width="1.5" height="8.2" fill="#6a5a08"/>
<rect x="707.4" y="586.3" width="1.5" height="8.2" fill="#6a5a08"/>
<rect x="728" y="590.5" width="16" height="7.5" rx="1" fill="#c4c4c4" transform="rotate(12 736 594)"/>
<rect x="801" y="582.5" width="14" height="5" rx="2" fill="#2a7de0" transform="rotate(35 808 585)"/>
<path d="M826,590 L850,590.5 M826,592 L850,595 M826,593 L850,598" stroke="#2a4ecf" stroke-width="1.2" fill="none"/>
<path d="M826,591 L850,593" stroke="#e0b010" stroke-width="1.2" fill="none"/>
<rect x="821.9" y="584.7" width="4.6" height="10" rx="1" fill="#eee" stroke="#c4c4c4" stroke-width="0.5"/>
<rect x="849.9" y="586.7" width="12.3" height="14" rx="1" fill="#f2f2f2" stroke="#c4c4c4" stroke-width="0.7"/>
</g>
<path d="M683.2,615 L683.2,782.6 L790,782.6" fill="none" stroke="#fe0000" stroke-width="6.4"/>
<polygon points="809.5,782.6 780.5,790.4 786.3,782.6 780.5,774.9" fill="#fe0000"/>
<g id="camera">
<defs><linearGradient id="gCam" x1="0" x2="1" y1="0" y2="0"><stop offset="0" stop-color="#38383a"/><stop offset="0.25" stop-color="#242426"/><stop offset="0.8" stop-color="#141416"/><stop offset="1" stop-color="#222224"/></linearGradient></defs>
<path d="M866,781 L871.4,781 L871.4,816" fill="none" stroke="#0c0c0c" stroke-width="3.6"/>
<path d="M868.2,790 L868.2,816" fill="none" stroke="#777" stroke-width="1.6"/>
<path d="M843.7,795.2 L860,795.2 L868,811" fill="none" stroke="#e23a36" stroke-width="2"/>
<path d="M843.7,797 L859,797 L866.5,812" fill="none" stroke="#c9c9c9" stroke-width="1.2"/>
<path d="M843.7,807.2 L858,807.2 L866,816" fill="none" stroke="#222" stroke-width="2"/>
<path d="M843.7,809 L857,809" fill="none" stroke="#bbb" stroke-width="1.2"/>
<rect x="823.2" y="782.3" width="12.5" height="6" rx="2" fill="#b9b9b9"/>
<ellipse cx="850" cy="784" rx="16" ry="6.9" fill="#e9d11c"/>
<rect x="864.5" y="778.6" width="1.4" height="8" fill="#3a3208"/>
<rect x="867.2" y="778.6" width="1.4" height="8" fill="#3a3208"/>
<rect x="869.9" y="778.6" width="1.4" height="8" fill="#3a3208"/>
<rect x="860.9" y="814" width="21.4" height="34.3" rx="10.5" fill="#050505"/>
<path d="M869,848 L869,880" stroke="#5a5a5a" stroke-width="3.4" fill="none"/><path d="M872.8,848 L872.8,882" stroke="#111" stroke-width="4.4" fill="none"/>
<path d="M847,880.5 Q844,880.5 844,884 L845.5,904 L899,911 Q902,911 902,907 L901,884 Q901,880 897,880 L889,880 Q880,890 871,890 Q862,890 857,880.5 Z" fill="#131315"/>
<ellipse cx="895.5" cy="895" rx="2.3" ry="4.2" fill="#fff"/><circle cx="890" cy="894" r="2.4" fill="#9a9a9a"/>
<path d="M845.5,902 Q845.5,895.8 852,895.8 L884,895.8 Q890.2,895.8 890.2,902 L890.2,943 Q890.2,949 884,949 L852,949 Q845.5,949 845.5,943 Z" fill="url(#gCam)"/>
<ellipse cx="867.8" cy="898.5" rx="22" ry="3.6" fill="#2f2f31"/>
<rect x="859.4" y="930.5" width="6.6" height="7.6" rx="1" fill="#f2f2f2"/>
<text x="0.0" y="0.0" font-family="&quot;Liberation Sans&quot;, sans-serif" font-size="6.4" font-weight="normal" fill="#f2f2f2" text-anchor="start" textLength="22.5" lengthAdjust="spacingAndGlyphs" transform="translate(865.2,929) rotate(-90)">Junsun</text>
</g>
<defs>
<linearGradient id="gCavity" x1="0" x2="1" y1="0" y2="0"><stop offset="0" stop-color="#080808"/><stop offset="0.3" stop-color="#141414"/><stop offset="0.62" stop-color="#383838"/><stop offset="1" stop-color="#262626"/></linearGradient>
<linearGradient id="gFuse" x1="0" x2="1" y1="0" y2="0"><stop offset="0" stop-color="#5e1212"/><stop offset="0.4" stop-color="#b51c1c"/><stop offset="0.75" stop-color="#741414"/><stop offset="1" stop-color="#d81818"/></linearGradient>
</defs>
<g id="photo">
<rect x="72.3" y="909.7" width="187.7" height="190" fill="#1d1d1d"/>
<rect x="72.3" y="909.7" width="4" height="190" fill="#2c2c2c"/>
<rect x="82" y="919" width="164.5" height="175.2" fill="#3c3c3c"/>
<rect x="90.6" y="924.4" width="93" height="164.5" fill="#1b1b1b"/>
<rect x="90.6" y="924.4" width="17" height="39" fill="#4e4e4e"/>
<rect x="91.2" y="926.5" width="12.3" height="31.2" fill="#070707"/>
<rect x="90.6" y="1048" width="18" height="41" fill="#4e4e4e"/>
<rect x="92" y="1054.5" width="12.5" height="31" fill="#070707"/>
<rect x="108.9" y="923.3" width="74.1" height="165.6" fill="url(#gCavity)"/>
<rect x="108.9" y="1075" width="74.1" height="14" fill="#000" opacity="0.35"/>
<path d="M183,919 L207,919 L200,962 L205.6,1030 L205.6,1094 L183,1094 Z" fill="#484848"/>
<rect x="203" y="923.3" width="43.5" height="165.6" fill="#0b0b0b"/>
<path d="M183,919 L207,919 L200,962 L203,1000 L203,1094 L183,1094 Z" fill="#484848"/>
<rect x="200" y="955.5" width="46.5" height="6.5" fill="#6a6a6a"/>
<rect x="203" y="1055.5" width="43.5" height="8.5" fill="#707070"/>
<rect x="228" y="1047" width="18.5" height="8" fill="#8a8a8a"/>
<rect x="246.5" y="919" width="13.5" height="175" fill="#1a1a1a"/>
<line x1="132.8" y1="938.5" x2="147.8" y2="935.0" stroke="#5a5a5a" stroke-width="1.6" stroke-linecap="round"/>
<line x1="176.8" y1="938.5" x2="183.0" y2="936.0" stroke="#666" stroke-width="1.8" stroke-linecap="round"/>
<circle cx="127.8" cy="939.0" r="2.7" fill="#f6f6f6"/>
<circle cx="173.8" cy="939.0" r="2.6" fill="#f2f2f2"/>
<line x1="132.8" y1="956.1" x2="147.8" y2="952.3" stroke="#5a5a5a" stroke-width="1.6" stroke-linecap="round"/>
<line x1="176.8" y1="956.1" x2="183.0" y2="953.6" stroke="#666" stroke-width="1.8" stroke-linecap="round"/>
<circle cx="127.8" cy="956.6" r="2.7" fill="#f6f6f6"/>
<circle cx="173.8" cy="956.6" r="2.6" fill="#f2f2f2"/>
<line x1="132.8" y1="974.4" x2="147.8" y2="970.3" stroke="#5a5a5a" stroke-width="1.6" stroke-linecap="round"/>
<line x1="176.8" y1="974.4" x2="183.0" y2="971.9" stroke="#666" stroke-width="1.8" stroke-linecap="round"/>
<circle cx="127.8" cy="974.9" r="2.7" fill="#f6f6f6"/>
<circle cx="173.8" cy="974.9" r="2.6" fill="#f2f2f2"/>
<line x1="132.8" y1="992.7" x2="147.8" y2="988.3" stroke="#5a5a5a" stroke-width="1.6" stroke-linecap="round"/>
<line x1="176.8" y1="992.7" x2="183.0" y2="990.2" stroke="#666" stroke-width="1.8" stroke-linecap="round"/>
<circle cx="127.8" cy="993.2" r="2.7" fill="#f6f6f6"/>
<circle cx="173.8" cy="993.2" r="2.6" fill="#f2f2f2"/>
<line x1="132.8" y1="1009.9" x2="147.8" y2="1005.2" stroke="#5a5a5a" stroke-width="1.6" stroke-linecap="round"/>
<line x1="176.8" y1="1009.9" x2="183.0" y2="1007.4" stroke="#666" stroke-width="1.8" stroke-linecap="round"/>
<circle cx="127.8" cy="1010.4" r="2.7" fill="#f6f6f6"/>
<circle cx="173.8" cy="1010.4" r="2.6" fill="#f2f2f2"/>
<line x1="132.8" y1="1028.2" x2="147.8" y2="1023.2" stroke="#5a5a5a" stroke-width="1.6" stroke-linecap="round"/>
<line x1="176.8" y1="1028.2" x2="183.0" y2="1025.7" stroke="#666" stroke-width="1.8" stroke-linecap="round"/>
<circle cx="127.8" cy="1028.7" r="2.7" fill="#f6f6f6"/>
<circle cx="173.8" cy="1028.7" r="2.6" fill="#f2f2f2"/>
<line x1="132.8" y1="1045.8" x2="147.8" y2="1040.5" stroke="#5a5a5a" stroke-width="1.6" stroke-linecap="round"/>
<line x1="176.8" y1="1045.8" x2="183.0" y2="1043.3" stroke="#666" stroke-width="1.8" stroke-linecap="round"/>
<circle cx="127.8" cy="1046.3" r="2.7" fill="#f6f6f6"/>
<circle cx="173.8" cy="1046.3" r="2.6" fill="#f2f2f2"/>
<line x1="137.5" y1="1066.9" x2="152.5" y2="1061.3" stroke="#5a5a5a" stroke-width="4.0" stroke-linecap="round"/>
<line x1="172.5" y1="1066.9" x2="183.0" y2="1064.4" stroke="#666" stroke-width="3.6" stroke-linecap="round"/>
<circle cx="132.5" cy="1067.4" r="3.3" fill="#f6f6f6"/>
<circle cx="169.5" cy="1067.4" r="3.3" fill="#f2f2f2"/>
<rect x="203" y="969.5" width="30.6" height="81.7" rx="9" fill="url(#gFuse)"/>
<rect x="206" y="995.5" width="25" height="26" rx="3" fill="#d02020" opacity="0.7"/>
<rect x="212.5" y="980.3" width="7.1" height="12.9" rx="1" fill="#f4eaea"/>
<rect x="212.5" y="1027.6" width="7.1" height="10.7" rx="1" fill="#f4eaea"/>
</g>
<polygon points="237.9,970 275.4,970 275.4,959.5 315.5,995.8 275.4,1033.8 275.4,1022.8 237.9,1022.8" fill="#fe0000"/>
<rect x="330.8" y="908.9" width="187.2" height="187.4" fill="#f8f8f8" stroke="#0a0a0a" stroke-width="2"/>
<path d="M330.8,967 L359.5,967 L359.5,908.9 M330.8,1038.5 L359.5,1038.5 L359.5,1096.3" fill="none" stroke="#0a0a0a" stroke-width="2"/>
<line x1="473.2" y1="908.9" x2="473.2" y2="1096.3" stroke="#0a0a0a" stroke-width="2.0" stroke-linecap="butt"/>
<line x1="493.0" y1="908.9" x2="493.0" y2="1096.3" stroke="#0a0a0a" stroke-width="2.0" stroke-linecap="butt"/>
<rect x="498.5" y="931.6" width="13.8" height="142" fill="#0c0c0c"/>
<text x="408.4" y="931.4" font-family="&quot;Liberation Serif&quot;, serif" font-size="13.0" font-weight="bold" fill="#111" text-anchor="start" textLength="13.0" lengthAdjust="spacingAndGlyphs" >09</text>
<text x="436.1" y="931.4" font-family="&quot;Liberation Serif&quot;, serif" font-size="13.0" font-weight="bold" fill="#111" text-anchor="start" textLength="13.0" lengthAdjust="spacingAndGlyphs" >01</text>
<circle cx="429.2" cy="927.7" r="2.1" fill="#f8f8f8" stroke="#111" stroke-width="2"/>
<circle cx="456.4" cy="927.7" r="3.1" fill="#111"/>
<text x="408.4" y="949.9" font-family="&quot;Liberation Serif&quot;, serif" font-size="13.0" font-weight="bold" fill="#111" text-anchor="start" textLength="13.0" lengthAdjust="spacingAndGlyphs" >10</text>
<text x="436.3" y="949.9" font-family="&quot;Liberation Serif&quot;, serif" font-size="13.0" font-weight="bold" fill="#111" text-anchor="start" textLength="13.0" lengthAdjust="spacingAndGlyphs" >02</text>
<circle cx="429.2" cy="946.5" r="2.1" fill="#f8f8f8" stroke="#111" stroke-width="2"/>
<circle cx="456.4" cy="946.5" r="3.1" fill="#111"/>
<text x="408.4" y="967.5" font-family="&quot;Liberation Serif&quot;, serif" font-size="13.0" font-weight="bold" fill="#111" text-anchor="start" textLength="13.0" lengthAdjust="spacingAndGlyphs" >11</text>
<text x="436.3" y="967.0" font-family="&quot;Liberation Serif&quot;, serif" font-size="13.0" font-weight="bold" fill="#111" text-anchor="start" textLength="13.0" lengthAdjust="spacingAndGlyphs" >03</text>
<circle cx="429.2" cy="965.5" r="2.1" fill="#f8f8f8" stroke="#111" stroke-width="2"/>
<circle cx="456.4" cy="965.5" r="3.1" fill="#111"/>
<text x="408.4" y="988.5" font-family="&quot;Liberation Serif&quot;, serif" font-size="13.0" font-weight="bold" fill="#111" text-anchor="start" textLength="13.0" lengthAdjust="spacingAndGlyphs" >12</text>
<text x="436.1" y="987.0" font-family="&quot;Liberation Serif&quot;, serif" font-size="13.0" font-weight="bold" fill="#111" text-anchor="start" textLength="13.0" lengthAdjust="spacingAndGlyphs" >04</text>
<circle cx="429.2" cy="986.8" r="2.1" fill="#f8f8f8" stroke="#111" stroke-width="2"/>
<circle cx="456.4" cy="986.8" r="3.1" fill="#111"/>
<text x="408.4" y="1010.7" font-family="&quot;Liberation Serif&quot;, serif" font-size="13.0" font-weight="bold" fill="#111" text-anchor="start" textLength="13.0" lengthAdjust="spacingAndGlyphs" >13</text>
<text x="437.4" y="1012.2" font-family="&quot;Liberation Serif&quot;, serif" font-size="13.0" font-weight="bold" fill="#111" text-anchor="start" textLength="13.0" lengthAdjust="spacingAndGlyphs" >05</text>
<circle cx="429.2" cy="1008.6" r="2.1" fill="#f8f8f8" stroke="#111" stroke-width="2"/>
<circle cx="456.4" cy="1008.6" r="3.1" fill="#111"/>
<text x="408.4" y="1034.7" font-family="&quot;Liberation Serif&quot;, serif" font-size="13.0" font-weight="bold" fill="#111" text-anchor="start" textLength="13.0" lengthAdjust="spacingAndGlyphs" >14</text>
<text x="438.1" y="1034.7" font-family="&quot;Liberation Serif&quot;, serif" font-size="13.0" font-weight="bold" fill="#111" text-anchor="start" textLength="13.0" lengthAdjust="spacingAndGlyphs" >06</text>
<circle cx="429.2" cy="1031.3" r="2.1" fill="#f8f8f8" stroke="#111" stroke-width="2"/>
<circle cx="456.4" cy="1031.3" r="3.1" fill="#111"/>
<text x="408.4" y="1057.0" font-family="&quot;Liberation Serif&quot;, serif" font-size="13.0" font-weight="bold" fill="#111" text-anchor="start" textLength="13.0" lengthAdjust="spacingAndGlyphs" >15</text>
<text x="437.2" y="1057.0" font-family="&quot;Liberation Serif&quot;, serif" font-size="13.0" font-weight="bold" fill="#111" text-anchor="start" textLength="13.0" lengthAdjust="spacingAndGlyphs" >07</text>
<circle cx="429.2" cy="1053.6" r="2.1" fill="#f8f8f8" stroke="#111" stroke-width="2"/>
<circle cx="456.4" cy="1053.6" r="3.1" fill="#111"/>
<text x="408.4" y="1080.0" font-family="&quot;Liberation Serif&quot;, serif" font-size="13.0" font-weight="bold" fill="#111" text-anchor="start" textLength="13.0" lengthAdjust="spacingAndGlyphs" >16</text>
<text x="437.4" y="1079.2" font-family="&quot;Liberation Serif&quot;, serif" font-size="13.0" font-weight="bold" fill="#111" text-anchor="start" textLength="13.0" lengthAdjust="spacingAndGlyphs" >08</text>
<circle cx="429.2" cy="1075.3" r="2.1" fill="#f8f8f8" stroke="#111" stroke-width="2"/>
<circle cx="456.4" cy="1075.3" r="3.1" fill="#111"/>
<text x="550.2" y="942.7" font-family="&quot;Liberation Sans&quot;, sans-serif" font-size="14.2" font-weight="normal" fill="#151515" text-anchor="start" textLength="14.8" lengthAdjust="spacingAndGlyphs" stroke="#151515" stroke-width="0.6" stroke-linejoin="round">01</text>
<text x="572.6" y="942.7" font-family="&quot;Liberation Sans&quot;, sans-serif" font-size="14.2" font-weight="normal" fill="#151515" text-anchor="start" stroke="#151515" stroke-width="0.6" stroke-linejoin="round">:</text>
<text x="584.5" y="942.7" font-family="&quot;Liberation Sans&quot;, sans-serif" font-size="14.2" font-weight="normal" fill="#151515" text-anchor="start" textLength="25.9" lengthAdjust="spacingAndGlyphs" stroke="#151515" stroke-width="0.6" stroke-linejoin="round">RR-</text>
<text x="662.0" y="942.7" font-family="&quot;Liberation Sans&quot;, sans-serif" font-size="14.2" font-weight="normal" fill="#151515" text-anchor="start" textLength="17.6" lengthAdjust="spacingAndGlyphs" stroke="#151515" stroke-width="0.6" stroke-linejoin="round">09</text>
<text x="684.5" y="942.7" font-family="&quot;Liberation Sans&quot;, sans-serif" font-size="14.2" font-weight="normal" fill="#151515" text-anchor="start" stroke="#151515" stroke-width="0.6" stroke-linejoin="round">:</text>
<text x="695.0" y="942.7" font-family="&quot;Liberation Sans&quot;, sans-serif" font-size="14.2" font-weight="normal" fill="#151515" text-anchor="start" textLength="24.0" lengthAdjust="spacingAndGlyphs" stroke="#151515" stroke-width="0.6" stroke-linejoin="round">FL+</text>
<text x="550.2" y="959.8" font-family="&quot;Liberation Sans&quot;, sans-serif" font-size="14.2" font-weight="normal" fill="#151515" text-anchor="start" textLength="17.5" lengthAdjust="spacingAndGlyphs" stroke="#151515" stroke-width="0.6" stroke-linejoin="round">02</text>
<text x="572.6" y="959.8" font-family="&quot;Liberation Sans&quot;, sans-serif" font-size="14.2" font-weight="normal" fill="#151515" text-anchor="start" stroke="#151515" stroke-width="0.6" stroke-linejoin="round">:</text>
<text x="584.7" y="959.8" font-family="&quot;Liberation Sans&quot;, sans-serif" font-size="14.2" font-weight="normal" fill="#151515" text-anchor="start" textLength="28.0" lengthAdjust="spacingAndGlyphs" stroke="#151515" stroke-width="0.6" stroke-linejoin="round">RR+</text>
<text x="662.0" y="959.8" font-family="&quot;Liberation Sans&quot;, sans-serif" font-size="14.2" font-weight="normal" fill="#151515" text-anchor="start" textLength="14.8" lengthAdjust="spacingAndGlyphs" stroke="#151515" stroke-width="0.6" stroke-linejoin="round">10</text>
<text x="684.5" y="959.8" font-family="&quot;Liberation Sans&quot;, sans-serif" font-size="14.2" font-weight="normal" fill="#151515" text-anchor="start" stroke="#151515" stroke-width="0.6" stroke-linejoin="round">:</text>
<text x="695.5" y="959.8" font-family="&quot;Liberation Sans&quot;, sans-serif" font-size="14.2" font-weight="normal" fill="#151515" text-anchor="start" textLength="22.4" lengthAdjust="spacingAndGlyphs" stroke="#151515" stroke-width="0.6" stroke-linejoin="round">FL-</text>
<text x="550.2" y="976.9" font-family="&quot;Liberation Sans&quot;, sans-serif" font-size="14.2" font-weight="normal" fill="#151515" text-anchor="start" textLength="17.5" lengthAdjust="spacingAndGlyphs" stroke="#151515" stroke-width="0.6" stroke-linejoin="round">03</text>
<text x="572.6" y="976.9" font-family="&quot;Liberation Sans&quot;, sans-serif" font-size="14.2" font-weight="normal" fill="#151515" text-anchor="start" stroke="#151515" stroke-width="0.6" stroke-linejoin="round">:</text>
<text x="585.0" y="976.9" font-family="&quot;Liberation Sans&quot;, sans-serif" font-size="14.2" font-weight="normal" fill="#151515" text-anchor="start" textLength="26.0" lengthAdjust="spacingAndGlyphs" stroke="#151515" stroke-width="0.6" stroke-linejoin="round">RL+</text>
<text x="662.0" y="976.9" font-family="&quot;Liberation Sans&quot;, sans-serif" font-size="14.2" font-weight="normal" fill="#151515" text-anchor="start" textLength="13.4" lengthAdjust="spacingAndGlyphs" stroke="#151515" stroke-width="0.6" stroke-linejoin="round">11</text>
<text x="684.5" y="976.9" font-family="&quot;Liberation Sans&quot;, sans-serif" font-size="14.2" font-weight="normal" fill="#151515" text-anchor="start" stroke="#151515" stroke-width="0.6" stroke-linejoin="round">:</text>
<text x="695.0" y="976.9" font-family="&quot;Liberation Sans&quot;, sans-serif" font-size="14.2" font-weight="normal" fill="#151515" text-anchor="start" textLength="26.8" lengthAdjust="spacingAndGlyphs" stroke="#151515" stroke-width="0.6" stroke-linejoin="round">FR+</text>
<text x="550.2" y="993.9" font-family="&quot;Liberation Sans&quot;, sans-serif" font-size="14.2" font-weight="normal" fill="#151515" text-anchor="start" textLength="18.6" lengthAdjust="spacingAndGlyphs" stroke="#151515" stroke-width="0.6" stroke-linejoin="round">04</text>
<text x="574.0" y="993.9" font-family="&quot;Liberation Sans&quot;, sans-serif" font-size="14.2" font-weight="normal" fill="#151515" text-anchor="start" stroke="#151515" stroke-width="0.6" stroke-linejoin="round">:</text>
<text x="586.0" y="993.9" font-family="&quot;Liberation Sans&quot;, sans-serif" font-size="14.2" font-weight="normal" fill="#151515" text-anchor="start" textLength="23.7" lengthAdjust="spacingAndGlyphs" stroke="#151515" stroke-width="0.6" stroke-linejoin="round">RL-</text>
<text x="662.0" y="993.9" font-family="&quot;Liberation Sans&quot;, sans-serif" font-size="14.2" font-weight="normal" fill="#151515" text-anchor="start" textLength="14.0" lengthAdjust="spacingAndGlyphs" stroke="#151515" stroke-width="0.6" stroke-linejoin="round">12</text>
<text x="684.5" y="993.9" font-family="&quot;Liberation Sans&quot;, sans-serif" font-size="14.2" font-weight="normal" fill="#151515" text-anchor="start" stroke="#151515" stroke-width="0.6" stroke-linejoin="round">:</text>
<text x="695.5" y="993.9" font-family="&quot;Liberation Sans&quot;, sans-serif" font-size="14.2" font-weight="normal" fill="#151515" text-anchor="start" textLength="24.6" lengthAdjust="spacingAndGlyphs" stroke="#151515" stroke-width="0.6" stroke-linejoin="round">FR-</text>
<text x="550.2" y="1010.9" font-family="&quot;Liberation Sans&quot;, sans-serif" font-size="14.2" font-weight="normal" fill="#151515" text-anchor="start" textLength="17.5" lengthAdjust="spacingAndGlyphs" stroke="#151515" stroke-width="0.6" stroke-linejoin="round">05</text>
<text x="572.6" y="1010.9" font-family="&quot;Liberation Sans&quot;, sans-serif" font-size="14.2" font-weight="normal" fill="#151515" text-anchor="start" stroke="#151515" stroke-width="0.6" stroke-linejoin="round">:</text>
<text x="586.0" y="1010.9" font-family="&quot;Liberation Sans&quot;, sans-serif" font-size="14.2" font-weight="normal" fill="#151515" text-anchor="start" textLength="30.7" lengthAdjust="spacingAndGlyphs" stroke="#151515" stroke-width="0.6" stroke-linejoin="round">NAT</text>
<text x="662.0" y="1010.9" font-family="&quot;Liberation Sans&quot;, sans-serif" font-size="14.2" font-weight="normal" fill="#151515" text-anchor="start" textLength="14.8" lengthAdjust="spacingAndGlyphs" stroke="#151515" stroke-width="0.6" stroke-linejoin="round">13</text>
<text x="684.5" y="1010.9" font-family="&quot;Liberation Sans&quot;, sans-serif" font-size="14.2" font-weight="normal" fill="#151515" text-anchor="start" stroke="#151515" stroke-width="0.6" stroke-linejoin="round">:</text>
<text x="696.0" y="1010.9" font-family="&quot;Liberation Sans&quot;, sans-serif" font-size="14.2" font-weight="normal" fill="#151515" text-anchor="start" textLength="53.5" lengthAdjust="spacingAndGlyphs" stroke="#151515" stroke-width="0.6" stroke-linejoin="round">KEY_F1</text>
<text x="550.2" y="1027.9" font-family="&quot;Liberation Sans&quot;, sans-serif" font-size="14.2" font-weight="normal" fill="#151515" text-anchor="start" textLength="17.5" lengthAdjust="spacingAndGlyphs" stroke="#151515" stroke-width="0.6" stroke-linejoin="round">06</text>
<text x="572.6" y="1027.9" font-family="&quot;Liberation Sans&quot;, sans-serif" font-size="14.2" font-weight="normal" fill="#151515" text-anchor="start" stroke="#151515" stroke-width="0.6" stroke-linejoin="round">:</text>
<text x="586.0" y="1027.9" font-family="&quot;Liberation Sans&quot;, sans-serif" font-size="14.2" font-weight="normal" fill="#151515" text-anchor="start" textLength="57.2" lengthAdjust="spacingAndGlyphs" stroke="#151515" stroke-width="0.6" stroke-linejoin="round">KEY_F2</text>
<text x="662.0" y="1027.9" font-family="&quot;Liberation Sans&quot;, sans-serif" font-size="14.2" font-weight="normal" fill="#151515" text-anchor="start" textLength="15.3" lengthAdjust="spacingAndGlyphs" stroke="#151515" stroke-width="0.6" stroke-linejoin="round">14</text>
<text x="684.5" y="1027.9" font-family="&quot;Liberation Sans&quot;, sans-serif" font-size="14.2" font-weight="normal" fill="#151515" text-anchor="start" stroke="#151515" stroke-width="0.6" stroke-linejoin="round">:</text>
<text x="694.4" y="1027.9" font-family="&quot;Liberation Sans&quot;, sans-serif" font-size="14.2" font-weight="normal" fill="#151515" text-anchor="start" textLength="66.2" lengthAdjust="spacingAndGlyphs" stroke="#151515" stroke-width="0.6" stroke-linejoin="round">REVERSE</text>
<text x="550.2" y="1045.0" font-family="&quot;Liberation Sans&quot;, sans-serif" font-size="14.2" font-weight="normal" fill="#151515" text-anchor="start" textLength="16.8" lengthAdjust="spacingAndGlyphs" stroke="#151515" stroke-width="0.6" stroke-linejoin="round">07</text>
<text x="572.6" y="1045.0" font-family="&quot;Liberation Sans&quot;, sans-serif" font-size="14.2" font-weight="normal" fill="#151515" text-anchor="start" stroke="#151515" stroke-width="0.6" stroke-linejoin="round">:</text>
<text x="586.0" y="1045.0" font-family="&quot;Liberation Sans&quot;, sans-serif" font-size="14.2" font-weight="normal" fill="#151515" text-anchor="start" textLength="19.0" lengthAdjust="spacingAndGlyphs" stroke="#151515" stroke-width="0.6" stroke-linejoin="round">ILL</text>
<text x="662.0" y="1045.0" font-family="&quot;Liberation Sans&quot;, sans-serif" font-size="14.2" font-weight="normal" fill="#151515" text-anchor="start" textLength="14.8" lengthAdjust="spacingAndGlyphs" stroke="#151515" stroke-width="0.6" stroke-linejoin="round">15</text>
<text x="684.5" y="1045.0" font-family="&quot;Liberation Sans&quot;, sans-serif" font-size="14.2" font-weight="normal" fill="#151515" text-anchor="start" stroke="#151515" stroke-width="0.6" stroke-linejoin="round">:</text>
<text x="695.8" y="1045.0" font-family="&quot;Liberation Sans&quot;, sans-serif" font-size="14.2" font-weight="normal" fill="#151515" text-anchor="start" textLength="62.0" lengthAdjust="spacingAndGlyphs" stroke="#151515" stroke-width="0.6" stroke-linejoin="round">ACC_IN</text>
<text x="550.2" y="1062.0" font-family="&quot;Liberation Sans&quot;, sans-serif" font-size="14.2" font-weight="normal" fill="#151515" text-anchor="start" textLength="17.5" lengthAdjust="spacingAndGlyphs" stroke="#151515" stroke-width="0.6" stroke-linejoin="round">08</text>
<text x="572.6" y="1062.0" font-family="&quot;Liberation Sans&quot;, sans-serif" font-size="14.2" font-weight="normal" fill="#151515" text-anchor="start" stroke="#151515" stroke-width="0.6" stroke-linejoin="round">:</text>
<text x="586.0" y="1062.0" font-family="&quot;Liberation Sans&quot;, sans-serif" font-size="14.2" font-weight="normal" fill="#151515" text-anchor="start" textLength="18.4" lengthAdjust="spacingAndGlyphs" stroke="#151515" stroke-width="0.6" stroke-linejoin="round">B+</text>
<text x="662.0" y="1062.0" font-family="&quot;Liberation Sans&quot;, sans-serif" font-size="14.2" font-weight="normal" fill="#151515" text-anchor="start" textLength="14.8" lengthAdjust="spacingAndGlyphs" stroke="#151515" stroke-width="0.6" stroke-linejoin="round">16</text>
<text x="684.5" y="1062.0" font-family="&quot;Liberation Sans&quot;, sans-serif" font-size="14.2" font-weight="normal" fill="#151515" text-anchor="start" stroke="#151515" stroke-width="0.6" stroke-linejoin="round">:</text>
<text x="696.3" y="1062.0" font-family="&quot;Liberation Sans&quot;, sans-serif" font-size="14.2" font-weight="normal" fill="#151515" text-anchor="start" textLength="34.4" lengthAdjust="spacingAndGlyphs" stroke="#151515" stroke-width="0.6" stroke-linejoin="round">GND</text>
</svg>
</body></html>
